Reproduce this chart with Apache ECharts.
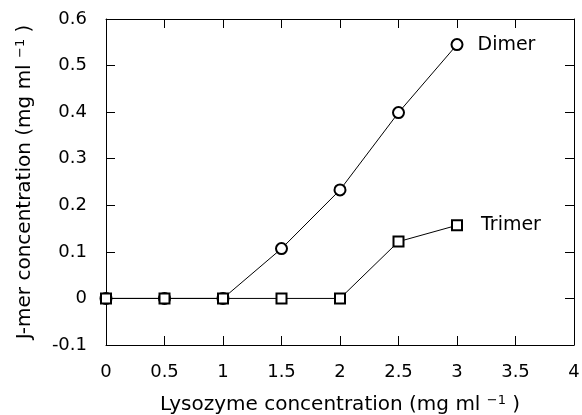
<!DOCTYPE html>
<html>
<head>
<meta charset="utf-8">
<script src="https://cdn.jsdelivr.net/npm/echarts@6/dist/echarts.min.js"></script>
<style>html,body{margin:0;padding:0;background:#fff}#c{width:582px;height:415px}</style>
</head>
<body>
<div id="c"></div>
<script>
var xValues = [0, 0.5, 1, 1.5, 2, 2.5, 3];
var dimer = [0, 0, 0, 0.107, 0.233, 0.399, 0.545];
var trimer = [0, 0, 0, 0, 0, 0.122, 0.157];
var seriesNames = ['Dimer', 'Trimer'];
var xTitle = 'Lysozyme concentration (mg ml {s|\u22121} )';
var yTitle = 'J-mer concentration (mg ml {s|\u22121} )';

var font = 'DejaVu Sans, sans-serif';
function pairs(xs, ys) { return xs.map(function (x, i) { return [x, ys[i]]; }); }
function lastLabel(data, name, dist) {
  return data.map(function (d, i) {
    if (i === data.length - 1) {
      return { value: d, label: { show: true, formatter: name, position: 'right', distance: dist, color: '#000', fontSize: 19, fontFamily: font } };
    }
    return d;
  });
}
var titleStyle = { fontSize: 20, color: '#000', fontFamily: font,
  rich: { s: { fontSize: 13, color: '#000', fontFamily: font, verticalAlign: 'top', padding: [0, 0, 9, 0] } } };
var chart = echarts.init(document.getElementById('c'));
var axisCommon = {
  axisLine: { show: true, onZero: false, lineStyle: { color: '#000', width: 1 } },
  axisTick: { show: true, inside: true, length: 9, lineStyle: { color: '#000' } },
  splitLine: { show: false }
};
chart.setOption({
  animation: false,
  backgroundColor: '#fff',
  grid: { left: 106, right: 8, top: 19, bottom: 70, containLabel: false, outerBoundsMode: 'none' },
  xAxis: [
    Object.assign({
      type: 'value', min: 0, max: 4, interval: 0.5, position: 'bottom',
      name: xTitle, nameLocation: 'middle', nameGap: 49,
      nameTextStyle: titleStyle,
      axisLabel: { margin: 18, fontSize: 18, color: '#000', fontFamily: font }
    }, axisCommon),
    Object.assign({
      type: 'value', min: 0, max: 4, interval: 0.5, position: 'top',
      axisLabel: { show: false }
    }, axisCommon)
  ],
  yAxis: [
    Object.assign({
      type: 'value', min: -0.1, max: 0.6, interval: 0.1, position: 'left',
      name: yTitle, nameLocation: 'middle', nameGap: 70,
      nameTextStyle: titleStyle,
      axisLabel: { margin: 19, fontSize: 18, color: '#000', fontFamily: font,
        formatter: function (v) { return Math.abs(v) < 1e-9 ? '0' : String(Math.round(v * 10) / 10); } }
    }, axisCommon),
    Object.assign({
      type: 'value', min: -0.1, max: 0.6, interval: 0.1, position: 'right',
      axisLabel: { show: false }
    }, axisCommon)
  ],
  series: [
    {
      name: seriesNames[0], type: 'line', data: lastLabel(pairs(xValues, dimer), seriesNames[0], 14),
      symbol: 'emptyCircle', symbolSize: 11,
      itemStyle: { color: '#000', borderColor: '#000', borderWidth: 1 },
      lineStyle: { color: '#000', width: 1 }, z: 3
    },
    {
      name: seriesNames[1], type: 'line', data: lastLabel(pairs(xValues, trimer), seriesNames[1], 18),
      symbol: 'emptyRect', symbolSize: 10,
      itemStyle: { color: '#000', borderColor: '#000', borderWidth: 1 },
      lineStyle: { color: '#000', width: 1 }, z: 3
    }
  ]
});
</script>
</body>
</html>
